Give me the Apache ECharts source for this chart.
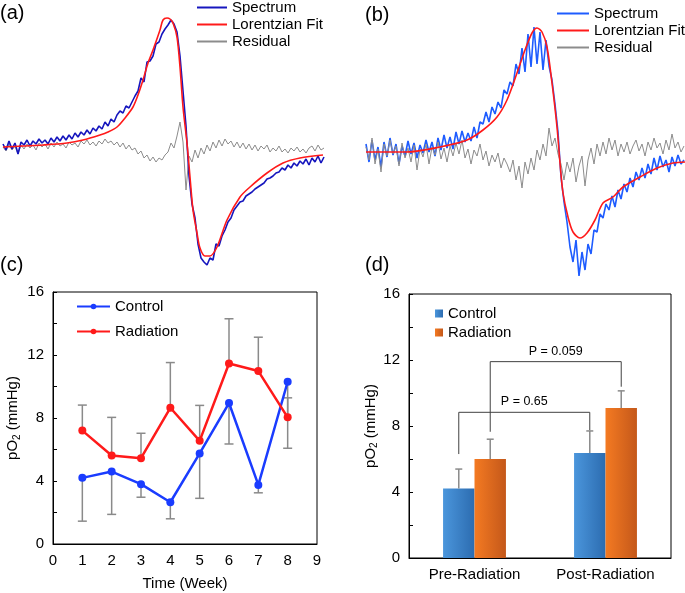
<!DOCTYPE html>
<html>
<head>
<meta charset="utf-8">
<script src="https://cdn.jsdelivr.net/npm/echarts@6/dist/echarts.min.js"></script>
<style>html,body{margin:0;padding:0;background:#fff}#c{width:685px;height:593px}</style>
</head>
<body>
<div id="c"></div>
<script>
// ---------- (a) EPR spectrum, field step 3 (a.u.) ----------
const specAStep = 3;
const specA = [2,-4,5,-3,3,-8,4,1,6,0, 5,2,7,3,6,2,8,4,9,5, 10,6,11,7,13,9,14,11,16,12, 18,15,20,17,24,20,27,24,31,35,
  33,40,38,44,50,55,68,64,84,85, 90,102,104,112,117,121,126,122,114,90, 55,20,-30,-58,-72,-98,-112,-116,-119,-112,
  -114,-98,-100,-90,-84,-76,-72,-64,-60,-56, -55,-50,-48,-46,-43,-41,-39,-37,-33,-32, -30,-27,-26,-22,-24,-19,-22,-17,-20,-15,
  -18,-13,-19,-12,-16,-10,-17,-11];
const residA = [-1,-5,2,-4,0,-8,1,-3,2,-2, 1,-4,3,-1,2,-3,3,-1,4,0, 2,-2,4,1,3,-1,5,2,6,1, 4,0,5,2,7,3,5,1,4,-1,
  3,-3,1,-4,-2,-8,-5,-12,-9,-15, -11,-16,-12,-14,-9,-6,3,-2,10,24, 4,-44,-10,-16,-4,-12,-2,-8,1,-5,
  4,-2,6,0,7,2,5,-1,4,-2, 3,-3,2,-4,1,-5,0,-3,1,-6, -2,-5,0,-6,-3,-7,-2,-5,-1,-6, -3,-7,-2,0,-5,1,-4,-2];
const fitAField = [0,20,40,64,80,97,105,114,122,130,135,140,145,150,157,160,164,167,170,174,177,180,184,187,190,194,197,202,207,214,224,237,247,264,280,297,320];
const fitA      = [-1,0,1,3,6,11,14,19,28,39,51,66,83,96,116,126,128,127,123,109,79,39,3,-31,-64,-87,-102,-110,-110,-101,-74,-51,-41,-27,-17,-12,-9];

// ---------- (b) EPR spectrum, field step 3 (a.u.) ----------
const specBStep = 3;
const specB = [8,-10,12,-8,5,-15,10,-5,14,-3, 8,-12,6,-4,11,-2,9,-6,7,-1, 12,0,10,-4,14,2,17,4,15,3, 20,8,21,10,19,11,25,14,30,28,
  40,30,45,38,50,44,62,58,70,66, 88,78,104,80,118,85,125,88,120,82, 112,86,72,48,20,-25,-50,-70,-95,-110,
  -88,-124,-100,-118,-92,-102,-78,-80,-62,-66, -52,-58,-44,-55,-38,-47,-32,-40,-26,-35, -20,-28,-16,-26,-12,-22,-6,-18,-4,-15,
  -8,-20,-5,-14,-3,-12,-8];
const residB = [5,-8,14,-12,3,-20,8,-4,12,-2, 6,-14,9,-6,4,-10,7,-18,3,-5, 8,-12,5,-3,10,-7,4,-10,6,-4, 9,-2,12,-6,3,-12,2,-4,8,-8,
  1,-14,-3,-10,-1,-16,-6,-12,-20,-8, -28,-14,-36,-10,-22,-6,-18,2,-8,8, -4,24,6,14,-2,-12,-28,-10,-20,-6,
  -30,-14,-4,-34,-8,4,-12,8,-4,10, -2,14,2,12,-4,8,0,10,-2,6, 12,1,8,-4,10,2,14,4,9,-2, 12,2,18,4,10,0,6];
const fitBField = [0,41,74,101,117,131,141,151,159,166,171,176,181,186,191,194,197,202,207,214,221,229,237,247,257,274,291,307,319];
const fitB      = [0,0,5,12,22,35,52,79,102,119,124,120,105,69,25,-11,-41,-65,-80,-86,-81,-68,-51,-45,-35,-25,-16,-11,-10];

// ---------- (c) pO2 over time ----------
const weeks = [1,2,3,4,5,6,7,8];
const controlPO2   = [4.2,4.6,3.8,2.65,5.75,8.95,3.75,10.3];
const controlErr   = [2.75,2.72,0.83,1.05,2.85,2.6,0.5,4.22];
const radiationPO2 = [7.2,5.62,5.45,8.65,6.55,11.46,10.98,8.04];
const radiationErr = [1.62,2.42,1.58,2.87,2.25,2.84,2.15,1.24];

// ---------- (d) pre / post radiation ----------
const barCategories   = ['Pre-Radiation','Post-Radiation'];
const barControl      = [4.21,6.36];
const barControlErr   = [1.18,1.34];
const barRadiation    = [6.0,9.09];
const barRadiationErr = [1.2,1.04];
const pLabels   = ['P = 0.65','P = 0.059'];
const pLevel    = [8.83,11.9];
const pLeftEnd  = [6.3,7.65];
const pRightEnd = [7.75,10.38];

const FONT = 'Liberation Sans, Arial, sans-serif';
const chart = echarts.init(document.getElementById('c'), null, {renderer:'canvas'});

const pairs = (xs, ys) => ys.map((v,i)=>[xs[i], v]);
const stepPairs = (ys, step) => ys.map((v,i)=>[i*step, v]);
const strip = n => n.replace(/ \([a-d]\)$/, '');

const blueA = '#1616be', blueB = '#1e5cff', fitRed = '#ff1a1a', gray = '#8c8c8c';
const ctrlBlue = '#1a3cff', radRed = '#ff1a1a';

const pO2Name = '{n|pO}{s|2}{n| (mmHg)}';
const pO2Rich = {n:{fontSize:15, fontFamily:FONT, color:'#000', verticalAlign:'middle', lineHeight:18},
                 s:{fontSize:10, fontFamily:FONT, color:'#000', verticalAlign:'bottom', lineHeight:18}};

const valAxisC = {
  type:'value', min:0, max:16, interval:4,
  axisLine:{show:true, lineStyle:{color:'#000', width:1}},
  axisTick:{show:true, inside:true, length:4, lineStyle:{color:'#000'}},
  minorTick:{show:true, splitNumber:2, length:4, lineStyle:{color:'#000'}},
  splitLine:{show:false}, minorSplitLine:{show:false},
  axisLabel:{fontSize:15, fontFamily:FONT, color:'#000', margin:9},
  name:pO2Name, nameLocation:'middle', nameRotate:90,
  nameTextStyle:{rich:pO2Rich}
};

const option = {
  animation:false,
  backgroundColor:'#fff',
  grid:[
    {left:3, top:16, width:322, height:255},
    {left:366, top:22, width:319, height:260},
    {left:53, top:292, width:264, height:252, show:true, borderColor:'#000', borderWidth:1},
    {left:409, top:294, width:262, height:264, show:true, borderColor:'#000', borderWidth:1}
  ],
  xAxis:[
    {gridIndex:0, type:'value', min:0, max:322, show:false},
    {gridIndex:1, type:'value', min:0, max:319, show:false},
    {gridIndex:2, type:'value', min:0, max:9, interval:1,
      axisLine:{lineStyle:{color:'#000'}}, axisTick:{show:false}, splitLine:{show:false},
      axisLabel:{fontSize:15, fontFamily:FONT, color:'#000', margin:9},
      name:'Time (Week)', nameLocation:'middle', nameGap:32,
      nameTextStyle:{fontSize:15, fontFamily:FONT, color:'#000'}},
    {gridIndex:3, type:'category', data:barCategories,
      axisLine:{lineStyle:{color:'#000'}}, axisTick:{show:false},
      axisLabel:{fontSize:15, fontFamily:FONT, color:'#000', margin:9}}
  ],
  yAxis:[
    {gridIndex:0, type:'value', min:-125, max:130, show:false},
    {gridIndex:1, type:'value', min:-130, max:130, show:false},
    Object.assign({gridIndex:2, nameGap:31}, valAxisC),
    Object.assign({gridIndex:3, nameGap:23}, valAxisC)
  ],
  legend:[
    {left:197, top:0, padding:0, orient:'vertical', icon:'rect', itemWidth:30, itemHeight:2, itemGap:2,
      textStyle:{fontSize:15, fontFamily:FONT, color:'#000'}, formatter:strip, selectedMode:false,
      data:['Spectrum (a)','Lorentzian Fit (a)','Residual (a)']},
    {left:557, top:6, padding:0, orient:'vertical', icon:'rect', itemWidth:32, itemHeight:2, itemGap:2,
      textStyle:{fontSize:15, fontFamily:FONT, color:'#000'}, formatter:strip, selectedMode:false,
      data:['Spectrum (b)','Lorentzian Fit (b)','Residual (b)']},
    {left:76, top:299, padding:0, orient:'vertical', itemWidth:33, itemHeight:7, itemGap:10,
      textStyle:{fontSize:15, fontFamily:FONT, color:'#000'}, formatter:strip, selectedMode:false,
      data:['Control (c)','Radiation (c)']},
    {left:435, top:306, padding:0, orient:'vertical', itemWidth:8, itemHeight:8, itemGap:4, icon:'rect',
      textStyle:{fontSize:15, fontFamily:FONT, color:'#000'}, formatter:strip, selectedMode:false,
      data:['Control (d)','Radiation (d)']}
  ],
  graphic:[
    {type:'text', left:0, top:3, style:{text:'(a)', fontSize:20, fontFamily:FONT, fill:'#000'}},
    {type:'text', left:365, top:5, style:{text:'(b)', fontSize:20, fontFamily:FONT, fill:'#000'}},
    {type:'text', left:0, top:255, style:{text:'(c)', fontSize:20, fontFamily:FONT, fill:'#000'}},
    {type:'text', left:365, top:255, style:{text:'(d)', fontSize:20, fontFamily:FONT, fill:'#000'}}
  ],
  series:[
    // (a)
    {name:'Residual (a)', type:'line', xAxisIndex:0, yAxisIndex:0, data:stepPairs(residA, specAStep),
      showSymbol:false, symbol:'none', lineStyle:{color:gray, width:1}, itemStyle:{color:gray}, z:2},
    {name:'Spectrum (a)', type:'line', xAxisIndex:0, yAxisIndex:0, data:stepPairs(specA, specAStep),
      showSymbol:false, symbol:'none', lineStyle:{color:blueA, width:1.6}, itemStyle:{color:blueA}, z:3},
    {name:'Lorentzian Fit (a)', type:'line', xAxisIndex:0, yAxisIndex:0, data:pairs(fitAField, fitA), smooth:0.3,
      showSymbol:false, symbol:'none', lineStyle:{color:fitRed, width:1.6}, itemStyle:{color:fitRed}, z:4},
    // (b)
    {name:'Residual (b)', type:'line', xAxisIndex:1, yAxisIndex:1, data:stepPairs(residB, specBStep),
      showSymbol:false, symbol:'none', lineStyle:{color:gray, width:1}, itemStyle:{color:gray}, z:3},
    {name:'Spectrum (b)', type:'line', xAxisIndex:1, yAxisIndex:1, data:stepPairs(specB, specBStep),
      showSymbol:false, symbol:'none', lineStyle:{color:blueB, width:1.6}, itemStyle:{color:blueB}, z:2},
    {name:'Lorentzian Fit (b)', type:'line', xAxisIndex:1, yAxisIndex:1, data:pairs(fitBField, fitB), smooth:0.3,
      showSymbol:false, symbol:'none', lineStyle:{color:fitRed, width:1.6}, itemStyle:{color:fitRed}, z:4},
    // (c) error bars
    {type:'custom', xAxisIndex:2, yAxisIndex:2, z:1, silent:true,
      data: weeks.map((w,i)=>[w, controlPO2[i], -controlErr[i]]).concat(weeks.map((w,i)=>[w, radiationPO2[i], radiationErr[i]])),
      renderItem:(params, api)=>{
        const x=api.value(0), y=api.value(1), e=api.value(2);
        const p0=api.coord([x,y]), p1=api.coord([x,y+e]);
        const st={stroke:'#8a8a8a', lineWidth:1.5};
        return {type:'group', children:[
          {type:'line', shape:{x1:p0[0],y1:p0[1],x2:p1[0],y2:p1[1]}, style:st},
          {type:'line', shape:{x1:p1[0]-4.5,y1:p1[1],x2:p1[0]+4.5,y2:p1[1]}, style:st}]};
      }},
    {name:'Control (c)', type:'line', xAxisIndex:2, yAxisIndex:2, data:pairs(weeks, controlPO2),
      symbol:'circle', symbolSize:8, lineStyle:{color:ctrlBlue, width:2.5}, itemStyle:{color:ctrlBlue}, z:3},
    {name:'Radiation (c)', type:'line', xAxisIndex:2, yAxisIndex:2, data:pairs(weeks, radiationPO2),
      symbol:'circle', symbolSize:8, lineStyle:{color:radRed, width:2.5}, itemStyle:{color:radRed}, z:3},
    // (d) bars
    {name:'Control (d)', type:'bar', xAxisIndex:3, yAxisIndex:3, data:barControl, barWidth:'24%', barGap:'0%',
      itemStyle:{color:new echarts.graphic.LinearGradient(0,0,1,0,[{offset:0,color:'#4b96dc'},{offset:1,color:'#2c6cb0'}])}},
    {name:'Radiation (d)', type:'bar', xAxisIndex:3, yAxisIndex:3, data:barRadiation, barWidth:'24%', barGap:'0%',
      itemStyle:{color:new echarts.graphic.LinearGradient(0,0,1,0,[{offset:0,color:'#f47a22'},{offset:1,color:'#c4581a'}])}},
    // (d) error bars
    {type:'custom', xAxisIndex:3, yAxisIndex:3, z:3, silent:true,
      data: barControl.map((v,i)=>[i, v, barControlErr[i], -1]).concat(barRadiation.map((v,i)=>[i, v, barRadiationErr[i], 1])),
      renderItem:(params, api)=>{
        const c=api.value(0), y=api.value(1), e=api.value(2), side=api.value(3);
        const bw=api.size([1,0])[0];
        const p0=api.coord([c,y]), p1=api.coord([c,y+e]);
        const x=p0[0]+side*bw*0.12;
        const st={stroke:'#8a8a8a', lineWidth:1.5};
        return {type:'group', children:[
          {type:'line', shape:{x1:x,y1:p0[1],x2:x,y2:p1[1]}, style:st},
          {type:'line', shape:{x1:x-3.5,y1:p1[1],x2:x+3.5,y2:p1[1]}, style:st}]};
      }},
    // (d) significance brackets
    {type:'custom', xAxisIndex:3, yAxisIndex:3, z:4, silent:true,
      data: pLevel.map((lv,i)=>[0, lv, pLeftEnd[i], pRightEnd[i], i===0?-1:1]),
      renderItem:(params, api)=>{
        const lv=api.value(1), le=api.value(2), re=api.value(3), side=api.value(4);
        const bw=api.size([1,0])[0];
        const xl=api.coord([0,lv])[0]+side*bw*0.12;
        const xr=api.coord([1,lv])[0]+side*bw*0.12;
        const yl=api.coord([0,lv])[1], yle=api.coord([0,le])[1], yre=api.coord([1,re])[1];
        const st={stroke:'#404040', lineWidth:1, fill:null};
        return {type:'group', children:[
          {type:'polyline', shape:{points:[[xl,yle],[xl,yl],[xr,yl],[xr,yre]]}, style:st},
          {type:'text', x:(xl+xr)/2, y:yl-4, style:{text:pLabels[params.dataIndex], fill:'#000',
            fontSize:12.5, fontFamily:FONT, align:'center', verticalAlign:'bottom'}}]};
      }}
  ]
};
chart.setOption(option);
</script>
</body>
</html>
